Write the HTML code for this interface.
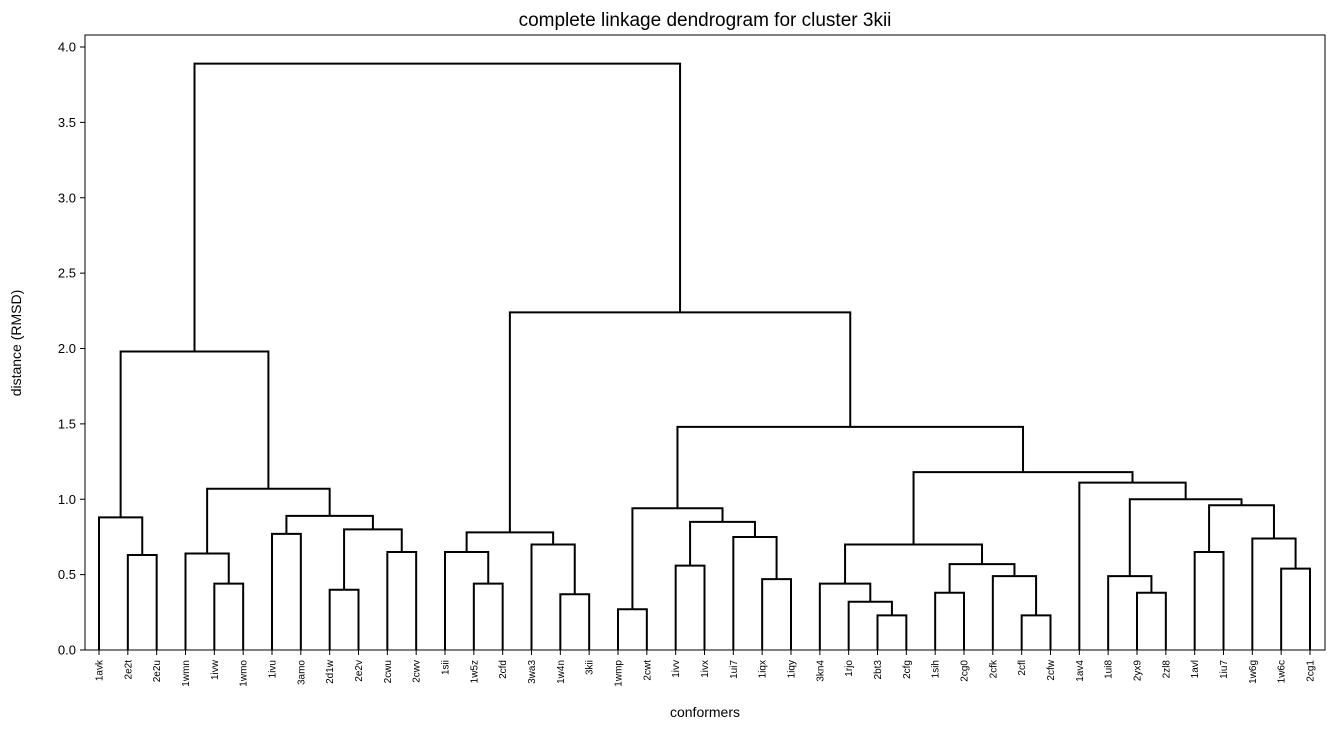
<!DOCTYPE html>
<html><head><meta charset="utf-8"><style>
html,body{margin:0;padding:0;background:#fff;}
svg{display:block;font-family:"Liberation Sans","DejaVu Sans",sans-serif;}
</style></head><body>
<svg id="chart" width="1334" height="730" viewBox="0 0 1334 730">
<text x="705" y="26" font-size="19" text-anchor="middle">complete linkage dendrogram for cluster 3kii</text>
<rect x="85" y="35" width="1240" height="615" fill="none" stroke="#000" stroke-width="1"/>
<g id="yaxis"></g>
<g id="links"></g>
<g id="xaxis"></g>
<text x="705" y="717" font-size="14" text-anchor="middle">conformers</text>
<text transform="translate(21,343) rotate(-90)" font-size="14" text-anchor="middle">distance (RMSD)</text>
</svg>
<script>
const leaves = ["1avk","2e2t","2e2u","1wmn","1ivw","1wmo","1ivu","3amo","2d1w","2e2v","2cwu","2cwv","1sii","1w5z","2cfd","3wa3","1w4n","3kii","1wmp","2cwt","1ivv","1ivx","1ui7","1iqx","1iqy","3kn4","1rjo","2bt3","2cfg","1sih","2cg0","2cfk","2cfl","2cfw","1av4","1ui8","2yx9","2zl8","1avl","1iu7","1w6g","1w6c","2cg1"];
const mergeLeft  = [1,0,4,3,6,8,10,48,47,46,44,13,12,16,15,55,18,20,23,22,60,59,27,26,25,29,32,31,68,67,36,35,38,41,40,75,74,34,72,64,58,53];
const mergeRight = [2,43,5,45,7,9,11,49,50,51,52,14,54,17,56,57,19,21,24,61,62,63,28,65,66,30,33,69,70,71,37,73,39,42,76,77,78,79,80,81,82,83];
const mergeHeight= [0.63,0.88,0.44,0.64,0.77,0.40,0.65,0.80,0.89,1.07,1.98,0.44,0.65,0.37,0.70,0.78,0.27,0.56,0.47,0.75,0.85,0.94,0.23,0.32,0.44,0.38,0.23,0.49,0.57,0.70,0.38,0.49,0.65,0.54,0.74,0.96,1.00,1.11,1.18,1.48,2.24,3.89];
const yTicks = [0,0.5,1.0,1.5,2.0,2.5,3.0,3.5,4.0];

const NS="http://www.w3.org/2000/svg";
const x0=99, x1=1310, yBase=650, yUnit=150.75;
const n=leaves.length;
function xScale(i){return x0+(x1-x0)*i/(n-1);}
function yScale(v){return yBase-v*yUnit;}
function mk(tag,attrs,parent){const e=document.createElementNS(NS,tag);for(const k in attrs)e.setAttribute(k,attrs[k]);parent.appendChild(e);return e;}

const yax=document.getElementById('yaxis');
yTicks.forEach(t=>{
  const y=yScale(t);
  const tk=mk('line',{x1:80,x2:85,y1:y,y2:y,stroke:'#000','stroke-width':1},yax);
  
  
  const lb=mk('text',{x:76,y:y+4.5,'font-size':13,'text-anchor':'end'},yax);
  lb.textContent=t.toFixed(1);
  
  
});

const xax=document.getElementById('xaxis');
leaves.forEach((name,i)=>{
  const x=xScale(i);
  const tk=mk('line',{x1:x,x2:x,y1:650,y2:655,stroke:'#000','stroke-width':1},xax);
  
  
  const lb=mk('text',{transform:`translate(${x+3.5},660) rotate(-90)`,'font-size':10,'text-anchor':'end'},xax);
  lb.textContent=name;
  
  
});

const posX=[], posH=[];
for(let i=0;i<n;i++){posX[i]=xScale(i);posH[i]=0;}
const links=document.getElementById('links');
for(let k=0;k<mergeLeft.length;k++){
  const a=mergeLeft[k], b=mergeRight[k], h=mergeHeight[k];
  const xa=posX[a], xb=posX[b], yh=yScale(h);
  const p=mk('path',{d:`M${xa},${yScale(posH[a])}V${yh}H${xb}V${yScale(posH[b])}`,fill:'none',stroke:'#000','stroke-width':2},links);
  
  
  posX[n+k]=(xa+xb)/2; posH[n+k]=h;
}
</script>
</body></html>
